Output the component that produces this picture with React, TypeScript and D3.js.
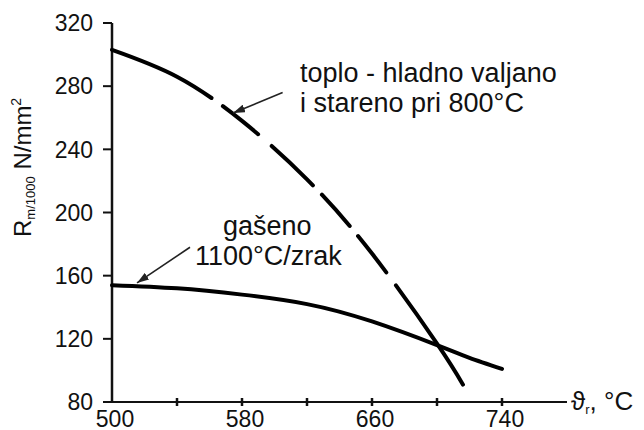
import React from "react";
import * as d3 from "d3";

const xTicks = [500, 540, 580, 620, 660, 700, 740];
const xTickLabels = [500, 580, 660, 740];
const yTicks = [80, 120, 160, 200, 240, 280, 320];

const solidT = [500, 540, 580, 620, 660, 700, 720, 740];
const solidV = [154, 152, 148, 142, 131, 116, 108, 101];

const dashedT = [500, 540, 580, 620, 660, 700, 716];
const dashedV = [303, 286, 258, 221, 174, 117, 91];

const W = 644;
const H = 430;
const FONT = "'Liberation Sans', Arial, sans-serif";

export default function App() {
  const x = d3.scaleLinear().domain([500, 780]).range([112, 567]);
  const y = d3.scaleLinear().domain([80, 320]).range([402, 23]);

  const line = d3
    .line<[number, number]>()
    .x((d) => x(d[0]))
    .y((d) => y(d[1]))
    .curve(d3.curveNatural);

  const solidPath = line(solidT.map((t, i) => [t, solidV[i]] as [number, number])) || "";
  const dashedPath = line(dashedT.map((t, i) => [t, dashedV[i]] as [number, number])) || "";

  const arrows = [
    { from: [605, 276], to: [574.5, 263] },
    { from: [548, 178], to: [515.4, 155.4] },
  ];

  return (
    <svg
      width={W}
      height={H}
      style={{ position: "absolute", left: 0, top: 0, background: "#fff" }}
      fontFamily={FONT}
    >
      <defs>
        <marker
          id="ah"
          viewBox="0 0 12 8"
          refX="12"
          refY="4"
          markerWidth="12"
          markerHeight="8"
          markerUnits="userSpaceOnUse"
          orient="auto"
        >
          <path d="M0,0 L12,4 L0,8 Z" fill="#222" />
        </marker>
      </defs>

      {/* axes */}
      <line x1={x(500)} x2={x(500)} y1={y(320)} y2={y(80)} stroke="#111" strokeWidth={2.5} />
      <line x1={x(500) - 1} x2={x(780)} y1={y(80)} y2={y(80)} stroke="#111" strokeWidth={2.2} />

      {yTicks.map((v) => (
        <g key={"y" + v}>
          <line x1={x(500) - 9} x2={x(500)} y1={y(v)} y2={y(v)} stroke="#111" strokeWidth={2} />
          <text
            x={93}
            y={y(v)}
            dy="0.36em"
            textAnchor="end"
            fontSize={23}
            fill="#111"
          >
            {v}
          </text>
        </g>
      ))}

      {xTicks.slice(1).map((t) => (
        <line
          key={"xt" + t}
          x1={x(t)}
          x2={x(t)}
          y1={y(80) - 4}
          y2={y(80) + 4}
          stroke="#111"
          strokeWidth={2.5}
        />
      ))}
      {xTickLabels.map((t) => (
        <text key={"xl" + t} x={x(t) + 3} y={427} textAnchor="middle" fontSize={23} fill="#111">
          {t}
        </text>
      ))}

      {/* x axis title */}
      <text x={571} y={410} fontSize={26} fill="#111">
        ϑ
        <tspan fontSize={13} dy={4}>r</tspan>
        <tspan dy={-4}>, °C</tspan>
      </text>

      {/* y axis title */}
      <text transform={`translate(31,237) rotate(-90)`} fontSize={24} fill="#111">
        R
        <tspan fontSize={13} dy={4}>m/1000</tspan>
        <tspan dy={-4}> N/mm</tspan>
        <tspan fontSize={14} dy={-10}>2</tspan>
      </text>

      {/* curves */}
      <path d={solidPath} fill="none" stroke="#000" strokeWidth={4} strokeLinecap="round" />
      <path
        d={dashedPath}
        fill="none"
        stroke="#000"
        strokeWidth={4}
        strokeLinecap="round"
        strokeDasharray="111 14 45 18 57 13 42 13 46 16 200"
      />

      {/* annotations */}
      {arrows.map((a, i) => (
        <line
          key={"a" + i}
          x1={x(a.from[0])}
          y1={y(a.from[1])}
          x2={x(a.to[0])}
          y2={y(a.to[1])}
          stroke="#222"
          strokeWidth={1.6}
          markerEnd="url(#ah)"
        />
      ))}

      <text x={x(615.7)} y={y(282.7)} fontSize={27} fill="#111">
        toplo - hladno valjano
      </text>
      <text x={x(615.7)} y={y(263.7)} fontSize={27} fill="#111">
        i stareno pri 800°C
      </text>

      <text x={x(568.3)} y={y(185.8)} fontSize={27} fill="#111">
        gašeno
      </text>
      <text x={x(551)} y={y(166.8)} fontSize={27} fill="#111">
        1100°C/zrak
      </text>
    </svg>
  );
}
